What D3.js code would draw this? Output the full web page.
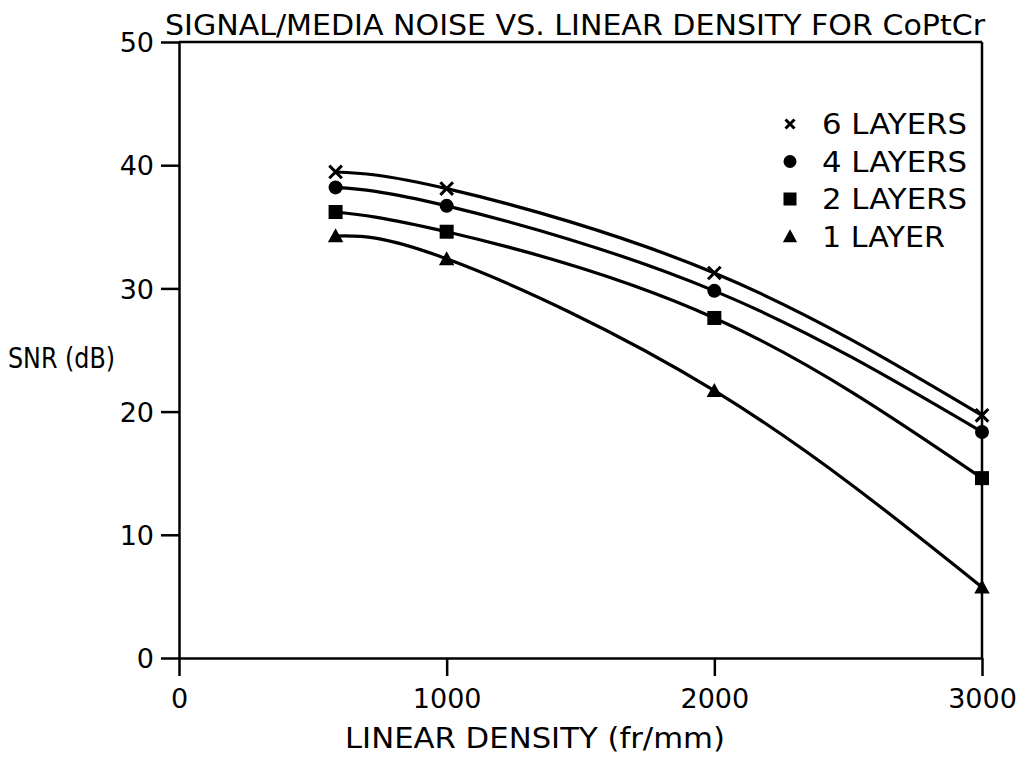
<!DOCTYPE html>
<html>
<head>
<meta charset="utf-8">
<script src="https://cdn.jsdelivr.net/npm/d3@7"></script>
<style>
  body { margin: 0; background: #fff; }
  text { font-family: "DejaVu Sans", sans-serif; fill: #000; }
</style>
</head>
<body>
<svg id="chart" width="1028" height="761"></svg>
<script>
// Data
const densities = [585, 1000, 2000, 3000];
const seriesNames = ["6 LAYERS", "4 LAYERS", "2 LAYERS", "1 LAYER"];
const snr6 = [39.45, 38.1, 31.25, 19.7];
const snr4 = [38.2, 36.7, 29.8, 18.35];
const snr2 = [36.2, 34.6, 27.6, 14.6];
const snr1 = [34.25, 32.4, 21.7, 5.75];
const xTicks = [0, 1000, 2000, 3000];
const yTicks = [0, 10, 20, 30, 40, 50];
const symbols = ["cross", "circle", "square", "triangle"];

const series = [snr6, snr4, snr2, snr1].map((vals, i) => ({
    name: seriesNames[i],
    symbol: symbols[i],
    points: vals.map((v, j) => ({ x: densities[j], y: v }))
}));

const svg = d3.select("#chart");
const x = d3.scaleLinear().domain([0, 3000]).range([179, 982]);
const y = d3.scaleLinear().domain([0, 50]).range([658, 42]);

// Frame: top and right lines
svg.append("line")
    .attr("x1", x(0)).attr("x2", x(3000))
    .attr("y1", y(50)).attr("y2", y(50))
    .attr("stroke", "#000").attr("stroke-width", 2.5);
svg.append("line")
    .attr("x1", x(3000)).attr("x2", x(3000))
    .attr("y1", y(50)).attr("y2", y(0))
    .attr("stroke", "#000").attr("stroke-width", 2.5);

// Axes
const xAxis = svg.append("g")
    .attr("transform", `translate(0,${y(0)})`)
    .call(d3.axisBottom(x).tickValues(xTicks).tickFormat(d3.format("d"))
        .tickSize(18).tickPadding(13).tickSizeOuter(0));
const yAxis = svg.append("g")
    .attr("transform", `translate(${x(0)},0)`)
    .call(d3.axisLeft(y).tickValues(yTicks).tickFormat(d3.format("d"))
        .tickSize(18).tickPadding(7).tickSizeOuter(0));

[xAxis, yAxis].forEach(g => {
    g.attr("font-size", null).attr("font-family", null);
    g.select(".domain").attr("stroke", "#000").attr("stroke-width", 2.5);
    g.selectAll(".tick line").attr("stroke", "#000").attr("stroke-width", 2.5);
    g.selectAll(".tick text")
        .style("font-size", "27px")
        .attr("fill", "#000");
});
yAxis.selectAll(".tick text").attr("dy", "0.36em");

// Curves
const line = d3.line()
    .x(d => x(d.x))
    .y(d => y(d.y))
    .curve(d3.curveNatural);

svg.append("g").selectAll("path")
    .data(series)
    .enter().append("path")
    .attr("d", d => line(d.points))
    .attr("fill", "none")
    .attr("stroke", "#000")
    .attr("stroke-width", 3.2);

// Marker drawing
function drawMarker(g, type, cx, cy, s) {
    if (type === "cross") {
        const h = s * 0.45;
        g.append("path")
            .attr("d", `M${cx - h},${cy - h}L${cx + h},${cy + h}M${cx - h},${cy + h}L${cx + h},${cy - h}`)
            .attr("stroke", "#000").attr("stroke-width", 3);
    } else if (type === "circle") {
        g.append("circle").attr("cx", cx).attr("cy", cy).attr("r", s * 0.5).attr("fill", "#000");
    } else if (type === "square") {
        g.append("rect").attr("x", cx - s / 2).attr("y", cy - s / 2)
            .attr("width", s).attr("height", s).attr("fill", "#000");
    } else {
        g.append("path")
            .attr("d", `M${cx},${cy - s * 0.55}L${cx + s * 0.55},${cy + s * 0.45}L${cx - s * 0.55},${cy + s * 0.45}Z`)
            .attr("fill", "#000");
    }
}

const markers = svg.append("g");
series.forEach(sr => {
    sr.points.forEach(p => drawMarker(markers, sr.symbol, x(p.x), y(p.y), 14));
});

// Legend
const legendWidths = [145, 145, 145, 123];
const legend = svg.append("g");
series.forEach((sr, i) => {
    const ly = 124 + i * 37.5;
    drawMarker(legend, sr.symbol, 790, ly, sr.symbol === "cross" ? 10 : 13);
    legend.append("text")
        .attr("x", 822).attr("y", ly)
        .attr("dy", "0.36em")
        .attr("textLength", legendWidths[i])
        .attr("lengthAdjust", "spacingAndGlyphs")
        .style("font-size", "28px")
        .text(sr.name);
});

// Title
svg.append("text")
    .attr("x", 165).attr("y", 35)
    .attr("textLength", 820)
    .attr("lengthAdjust", "spacingAndGlyphs")
    .style("font-size", "28px")
    .text("SIGNAL/MEDIA NOISE VS. LINEAR DENSITY FOR CoPtCr");

// Axis titles
svg.append("text")
    .attr("x", 345).attr("y", 748)
    .attr("textLength", 380)
    .attr("lengthAdjust", "spacingAndGlyphs")
    .style("font-size", "29px")
    .text("LINEAR DENSITY (fr/mm)");

svg.append("text")
    .attr("x", 8).attr("y", 368)
    .attr("textLength", 107)
    .attr("lengthAdjust", "spacingAndGlyphs")
    .style("font-size", "28px")
    .text("SNR (dB)");
</script>
</body>
</html>
